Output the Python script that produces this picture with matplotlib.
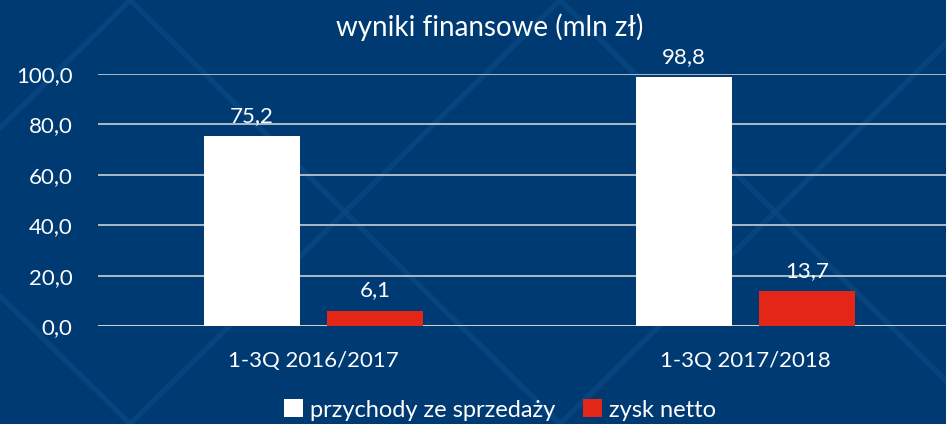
import matplotlib
matplotlib.use("Agg")
import matplotlib.pyplot as plt
import numpy as np

# data
categories = ["1-3Q 2016/2017", "1-3Q 2017/2018"]
przychody = [75.2, 98.8]
zysk = [6.1, 13.7]
labels_p = ["75,2", "98,8"]
labels_z = ["6,1", "13,7"]
yticks = [0, 20, 40, 60, 80, 100]

bg = "#003a73"
red = "#e32618"
plt.rcParams['font.family'] = ['Lato', 'DejaVu Sans']

fig = plt.figure(figsize=(9.46, 4.24), dpi=100, facecolor=bg)

# faint diamond pattern in the background
pat = "#0c4a84"
for x0 in [-300, 130, 560, 990]:
    fig.add_artist(plt.Line2D([x0/946, (x0+430)/946], [1, 0], color=pat, lw=4, alpha=0.6, zorder=0))
    fig.add_artist(plt.Line2D([x0/946, (x0+430)/946], [0, 1], color=pat, lw=4, alpha=0.6, zorder=0))

ax = fig.add_axes([97.5/946, 98/424, 864/946, 252/424])
ax.set_facecolor("none")

x = np.arange(len(categories))
w = 0.222
off = 0.1424
ax.bar(x - off, przychody, w, color="white", label="przychody ze sprzedaży", zorder=3)
ax.bar(x + off, zysk, w, color=red, label="zysk netto", zorder=3)

for i in range(len(categories)):
    ax.text(x[i] - off, przychody[i] + 4, labels_p[i], ha="center", va="bottom", color="white", fontsize=16)
    ax.text(x[i] + off, zysk[i] + 4, labels_z[i], ha="center", va="bottom", color="white", fontsize=16)

ax.set_xlim(-0.5, 1.5)
ax.set_ylim(0, 100)
ax.set_yticks(yticks)
ax.set_yticklabels([f"{v:.1f}".replace(".", ",") for v in yticks], color="white", fontsize=16)
ax.set_xticks(x)
ax.set_xticklabels(categories, color="white", fontsize=16)
ax.tick_params(length=0, pad=18, axis="y")
ax.tick_params(length=0, pad=18, axis="x")
ax.grid(axis="y", color="#c8cfd8", lw=1.2, zorder=1)
for s in ax.spines.values():
    s.set_visible(False)
ax.axhline(0, color="#d0d4da", lw=2, zorder=2)

fig.text(490/946, 1 - 27/424, "wyniki finansowe (mln zł)", ha="center", va="center", color="white", fontsize=20)

leg = fig.legend(loc="center", bbox_to_anchor=(500/946, 1 - 410/424), ncol=2, frameon=False,
                 fontsize=17, handlelength=0.8, handleheight=0.8, handletextpad=0.3, columnspacing=1.2)
for t in leg.get_texts():
    t.set_color("white")

fig.savefig("out.png", dpi=100, facecolor=bg)
